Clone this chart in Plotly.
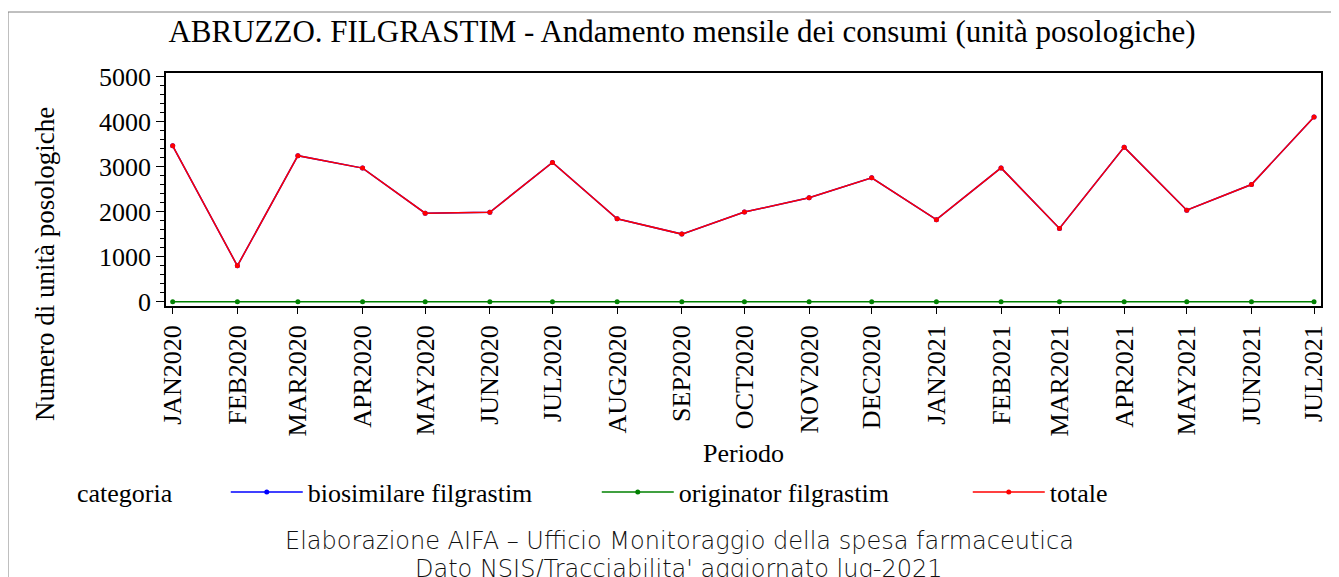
import plotly.graph_objects as go

months = ["2020-01-01", "2020-02-01", "2020-03-01", "2020-04-01", "2020-05-01", "2020-06-01",
          "2020-07-01", "2020-08-01", "2020-09-01", "2020-10-01", "2020-11-01", "2020-12-01",
          "2021-01-01", "2021-02-01", "2021-03-01", "2021-04-01", "2021-05-01", "2021-06-01",
          "2021-07-01"]
month_labels = ["JAN2020", "FEB2020", "MAR2020", "APR2020", "MAY2020", "JUN2020", "JUL2020",
                "AUG2020", "SEP2020", "OCT2020", "NOV2020", "DEC2020", "JAN2021", "FEB2021",
                "MAR2021", "APR2021", "MAY2021", "JUN2021", "JUL2021"]
totale = [3460, 795, 3240, 2965, 1965, 1985, 3090, 1840, 1500, 1990,
          2305, 2750, 1820, 2970, 1625, 3430, 2030, 2600, 4100]
biosimilare = [3460, 795, 3240, 2965, 1965, 1985, 3090, 1840, 1500, 1990,
               2305, 2750, 1820, 2970, 1625, 3430, 2030, 2600, 4100]
originator = [0] * 19
y_ticks = [0, 1000, 2000, 3000, 4000, 5000]

SERIF = "Liberation Serif, Times New Roman, serif"

# the page body has an 8px margin: figure coords = page coords - 8
W, H = 1331, 569
L, T = 158, 65
R = W - 1313
B = H - 298
PW = W - L - R
PH = H - T - B


def px(xp):  # page x -> paper x
    return (xp - 8 - L) / PW


def py(yp):  # page y -> paper y
    return (H - B - (yp - 8)) / PH


fig = go.Figure()
series = [("biosimilare filgrastim", biosimilare, "#0000ff"),
          ("originator filgrastim", originator, "#008000"),
          ("totale", totale, "#ff0000")]
for name, vals, col in series:
    fig.add_trace(go.Scatter(x=months, y=vals, mode="lines+markers", name=name,
                             line=dict(color=col, width=1.5),
                             marker=dict(color=col, size=5)))

fig.update_layout(
    width=W, height=H,
    margin=dict(l=L, r=R, t=T, b=B),
    paper_bgcolor="white", plot_bgcolor="white",
    font=dict(family=SERIF, size=26, color="black"),
    title=dict(text="ABRUZZO. FILGRASTIM - Andamento mensile dei consumi (unità posologiche)",
               x=(682 - 8) / W, xref="container", xanchor="center",
               y=1 - (31 - 8) / H, yref="container", yanchor="middle",
               font=dict(family=SERIF, size=31, color="black")),
    showlegend=True,
    legend=dict(orientation="h", x=px(80), xanchor="left", y=py(492), yanchor="middle",
                title=dict(text="categoria" + "\u00a0" * 7, font=dict(size=26)),
                font=dict(family=SERIF, size=26), entrywidth=284, itemwidth=72,
                bgcolor="rgba(0,0,0,0)"),
)

fig.update_xaxes(type="date", range=["2019-12-28 19:00", "2021-07-04 08:00"],
                 tickvals=months, ticktext=month_labels, tickangle=-90,
                 ticks="outside", ticklen=6, tickcolor="black", ticklabelstandoff=1,
                 showline=True, linecolor="black", linewidth=1.5, mirror=True,
                 showgrid=False, zeroline=False,
                 tickfont=dict(family=SERIF, size=26))
fig.update_yaxes(range=[-96, 5076], tickvals=y_ticks,
                 ticks="outside", ticklen=8, tickcolor="black",
                 minor=dict(dtick=200, ticks="outside", ticklen=4, tickcolor="black", showgrid=False),
                 showline=True, linecolor="black", linewidth=1.5, mirror=True,
                 showgrid=False, zeroline=False,
                 tickfont=dict(family=SERIF, size=26))

# axis titles
fig.add_annotation(text="Numero di unità posologiche", xref="paper", yref="paper",
                   x=px(45), y=py(264), textangle=-90,
                   showarrow=False, xanchor="center", yanchor="middle",
                   font=dict(family=SERIF, size=27))
fig.add_annotation(text="Periodo", xref="paper", yref="paper",
                   x=0.5, y=py(453), showarrow=False,
                   xanchor="center", yanchor="middle", font=dict(family=SERIF, size=26))

# footnotes
FOOT = "DejaVu Sans ExtraLight, DejaVu Sans, sans-serif"
fig.add_annotation(text="Elaborazione AIFA – Ufficio Monitoraggio della spesa farmaceutica",
                   xref="paper", yref="paper", x=px(679), y=py(541),
                   showarrow=False, xanchor="center", yanchor="middle",
                   font=dict(family=FOOT, size=24, color="#111", weight=200))
fig.add_annotation(text="Dato NSIS/Tracciabilita' aggiornato lug-2021",
                   xref="paper", yref="paper", x=px(679), y=py(569),
                   showarrow=False, xanchor="center", yanchor="middle",
                   font=dict(family=FOOT, size=24, color="#111", weight=200))

# outer frame
fig.add_shape(type="rect", xref="paper", yref="paper",
              x0=px(8), x1=1.2, y0=-2.0, y1=py(12),
              line=dict(color="#808080", width=1), fillcolor="rgba(0,0,0,0)", layer="below")

fig.write_html("out.html")
